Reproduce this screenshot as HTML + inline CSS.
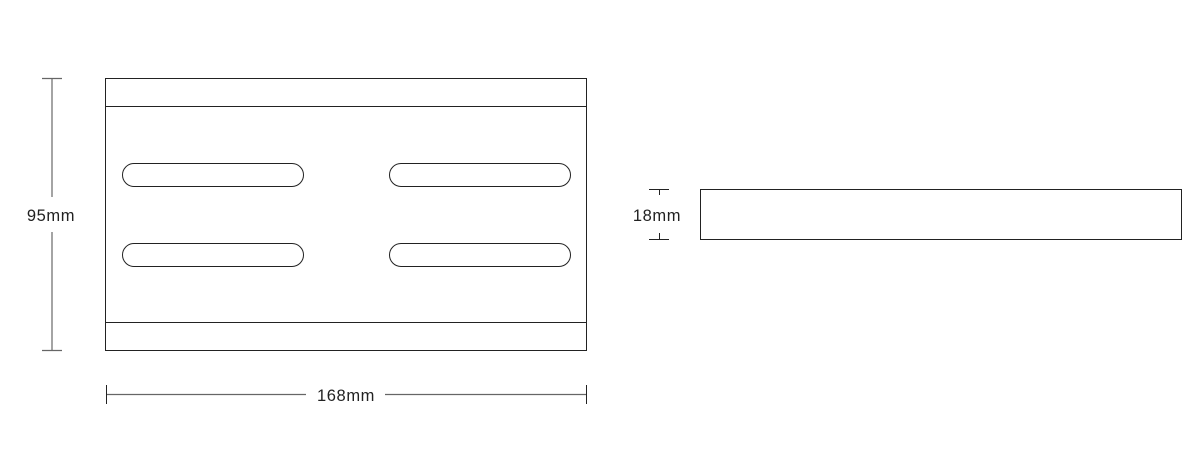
<!DOCTYPE html>
<html><head><style>body{margin:0;background:#fff}</style></head><body>
<svg width="1200" height="461" xmlns="http://www.w3.org/2000/svg" style="display:block">
<g fill="none" stroke="#222" stroke-width="1">
<rect x="105.5" y="78.5" width="481" height="272"/>
<line x1="105.5" y1="106.5" x2="586.5" y2="106.5"/>
<line x1="105.5" y1="322.5" x2="586.5" y2="322.5"/>
<rect x="122.5" y="163.5" width="181" height="23" rx="11.5"/>
<rect x="122.5" y="243.5" width="181" height="23" rx="11.5"/>
<rect x="389.5" y="163.5" width="181" height="23" rx="11.5"/>
<rect x="389.5" y="243.5" width="181" height="23" rx="11.5"/>
<rect x="700.5" y="189.5" width="481" height="50"/>
</g>
<g stroke="#666" stroke-width="1.2">
<line x1="52" y1="78.5" x2="52" y2="197"/>
<line x1="52" y1="232" x2="52" y2="350.5"/>
<line x1="42" y1="78.5" x2="62" y2="78.5"/>
<line x1="42" y1="350.5" x2="62" y2="350.5"/>
<line x1="106" y1="394.5" x2="306" y2="394.5"/>
<line x1="385" y1="394.5" x2="586" y2="394.5"/>
</g>
<g stroke="#222" stroke-width="1">
<line x1="106.5" y1="385" x2="106.5" y2="404"/>
<line x1="586.5" y1="385" x2="586.5" y2="404"/>
<line x1="649" y1="189.5" x2="669" y2="189.5"/>
<line x1="649" y1="239.5" x2="669" y2="239.5"/>
<line x1="659.5" y1="189.5" x2="659.5" y2="195"/>
<line x1="659.5" y1="233" x2="659.5" y2="239.5"/>
</g>
<g font-family="Liberation Sans, sans-serif" font-size="16.5" letter-spacing="0.6" fill="#222" text-anchor="middle">
<text x="51" y="221">95mm</text>
<text x="346" y="401">168mm</text>
<text x="657" y="221">18mm</text>
</g>
</svg>
</body></html>
